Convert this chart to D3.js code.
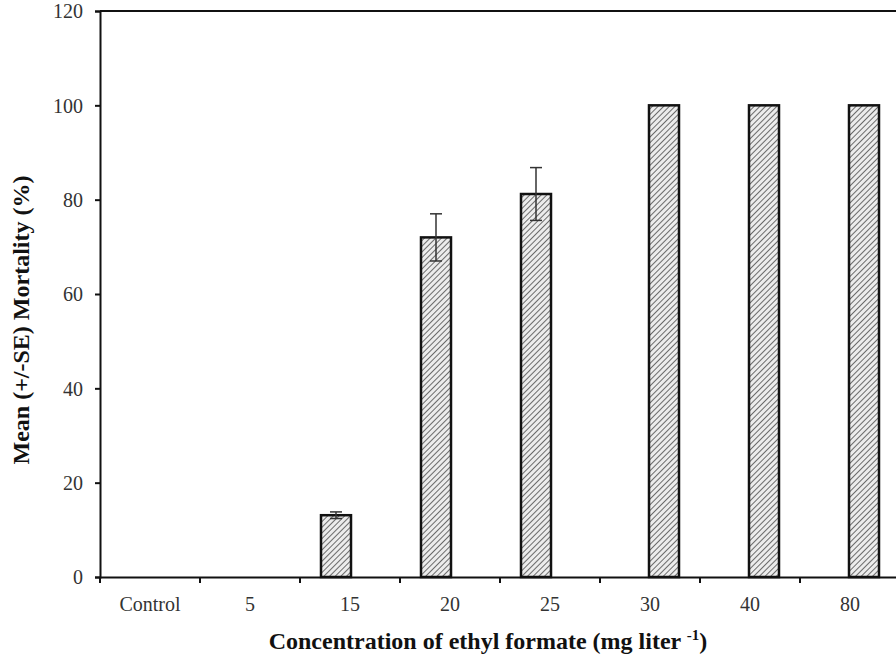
<!DOCTYPE html>
<html>
<head>
<meta charset="utf-8">
<script src="https://cdn.jsdelivr.net/npm/d3@7"></script>
<style>
  html, body { margin: 0; padding: 0; background: #fff; }
  svg { display: block; }
</style>
</head>
<body>
<svg id="chart" width="896" height="667"></svg>
<script>
// ---- data ----
const categories = ["Control", "5", "15", "20", "25", "30", "40", "80"];
const mortality  = [0, 0, 13.1, 72.0, 81.2, 100, 100, 100];
const seValues   = [0, 0, 0.7, 5.0, 5.6, 0, 0, 0];
const subgroup   = ["A", "A", "A", "A", "A", "B", "B", "B"];
const subgroups  = ["A", "B"];
const yTicks     = [0, 20, 40, 60, 80, 100, 120];
const yTitle = "Mean (+/-SE) Mortality (%)";
const xTitle = "Concentration of ethyl formate (mg liter ";
const xTitleSup = "-1";

const data = categories.map((c, i) => ({ cat: c, v: mortality[i], se: seValues[i], g: subgroup[i] }));

// ---- layout ----
const svg = d3.select("#chart");
const pLeft = 100, pRight = 900, pTop = 11, pBottom = 577;
const serif = "'Liberation Serif', 'Times New Roman', serif";

const x0 = d3.scaleBand().domain(categories).range([pLeft, pRight]).padding(0);
const x1 = d3.scalePoint().domain(subgroups).range([36, 64]);
const barW = 30;
const y = d3.scaleLinear().domain([0, 120]).range([pBottom, pTop]);

// hatch pattern
const defs = svg.append("defs");
const pat = defs.append("pattern")
  .attr("id", "hatch").attr("patternUnits", "userSpaceOnUse")
  .attr("width", 4).attr("height", 4)
  .attr("patternTransform", "rotate(45)");
pat.append("rect").attr("width", 4).attr("height", 4).attr("fill", "#ececec");
pat.append("line").attr("x1", 0).attr("y1", 0).attr("x2", 0).attr("y2", 4)
  .attr("stroke", "#4a4a4a").attr("stroke-width", 1.6);

// bars
const bars = data.filter(d => d.v > 0);
svg.append("g").selectAll("rect").data(bars).join("rect")
  .attr("x", d => x0(d.cat) + x1(d.g) - barW / 2)
  .attr("y", d => y(d.v))
  .attr("width", barW)
  .attr("height", d => y(0) - y(d.v))
  .attr("fill", "url(#hatch)")
  .attr("stroke", "#111")
  .attr("stroke-width", 2.5);

// error bars
const errs = data.filter(d => d.v > 0 && d.se > 0);
const eg = svg.append("g").attr("stroke", "#333").attr("stroke-width", 1.5);
eg.selectAll("line.v").data(errs).join("line").attr("class", "v")
  .attr("x1", d => x0(d.cat) + x1(d.g)).attr("x2", d => x0(d.cat) + x1(d.g))
  .attr("y1", d => y(d.v - d.se)).attr("y2", d => y(d.v + d.se));
eg.selectAll("line.t").data(errs).join("line").attr("class", "t")
  .attr("x1", d => x0(d.cat) + x1(d.g) - 6).attr("x2", d => x0(d.cat) + x1(d.g) + 6)
  .attr("y1", d => y(d.v + d.se)).attr("y2", d => y(d.v + d.se));
eg.selectAll("line.b").data(errs).join("line").attr("class", "b")
  .attr("x1", d => x0(d.cat) + x1(d.g) - 6).attr("x2", d => x0(d.cat) + x1(d.g) + 6)
  .attr("y1", d => y(d.v - d.se)).attr("y2", d => y(d.v - d.se));

// frame (top and right border)
svg.append("path")
  .attr("d", `M${pLeft},${pTop}H${pRight}V${pBottom}`)
  .attr("fill", "none").attr("stroke", "#111").attr("stroke-width", 2);

// y axis
const yAxis = svg.append("g").attr("transform", `translate(${pLeft},0)`)
  .call(d3.axisLeft(y).tickValues(yTicks).tickSize(5).tickPadding(12));
yAxis.select(".domain").attr("stroke", "#111").attr("stroke-width", 2);
yAxis.selectAll(".tick line").attr("stroke", "#111").attr("stroke-width", 2);
yAxis.selectAll(".tick text").attr("font-family", serif).attr("font-size", 20)
  .attr("fill", "#333").attr("dy", "0.34em");

// x axis with ticks at band boundaries
const xAxis = svg.append("g").attr("transform", `translate(0,${pBottom})`)
  .call(d3.axisBottom(x0).tickSize(0).tickPadding(20));
xAxis.select(".domain").attr("stroke", "#111").attr("stroke-width", 2);
xAxis.selectAll(".tick text").attr("font-family", serif).attr("font-size", 20).attr("fill", "#333");
const bounds = categories.map(c => x0(c)).concat([x0(categories[categories.length - 1]) + x0.bandwidth()]);
xAxis.selectAll("line.bt").data(bounds).join("line").attr("class", "bt")
  .attr("x1", d => d).attr("x2", d => d).attr("y1", 0).attr("y2", 6)
  .attr("stroke", "#111").attr("stroke-width", 2);

// titles
svg.append("text")
  .attr("transform", `translate(29,${(pTop + pBottom) / 2 + 26}) rotate(-90)`)
  .attr("text-anchor", "middle")
  .attr("font-family", serif).attr("font-weight", "bold").attr("font-size", 24)
  .attr("fill", "#111")
  .text(yTitle);

const xt = svg.append("text")
  .attr("x", 488).attr("y", 649)
  .attr("text-anchor", "middle")
  .attr("font-family", serif).attr("font-weight", "bold").attr("font-size", 24)
  .attr("fill", "#111");
xt.append("tspan").text(xTitle);
xt.append("tspan").attr("font-size", 15).attr("dy", -9).text(xTitleSup);
xt.append("tspan").attr("dy", 9).text(")");
</script>
</body>
</html>
